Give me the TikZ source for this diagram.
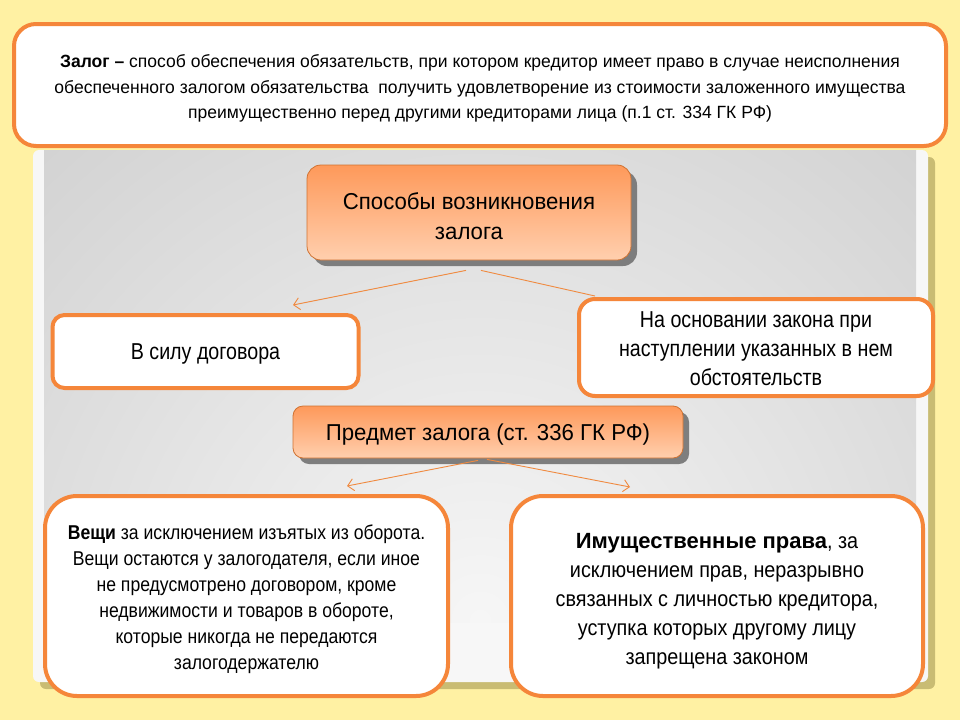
\documentclass[tikz,border=0pt]{standalone}
\usepackage{fontspec}
\setmainfont{Liberation Sans}
\newfontfamily\fDef[FakeStretch=0.99]{Liberation Sans}
\newfontfamily\fOr[FakeStretch=0.965]{Liberation Sans}
\newfontfamily\fMid[FakeStretch=0.855]{Liberation Sans}
\newfontfamily\fThg[FakeStretch=0.88]{Liberation Sans}
\newfontfamily\fRgt[FakeStretch=0.90]{Liberation Sans}
\newfontfamily\fRgtB{Liberation Sans}
\usetikzlibrary{arrows.meta,shadows}
\definecolor{bgyellow}{HTML}{FFF1A3}
\definecolor{orline}{HTML}{F5863A}
\definecolor{ortop}{HTML}{FE995A}
\definecolor{orbot}{HTML}{FFCFAE}
\definecolor{olive}{HTML}{C9BC73}
\definecolor{arrcol}{HTML}{F08A40}
\newcommand{\tx}[2][4pt]{\raisebox{-#1}[\height][\depth]{\begin{tabular}{@{}c@{}}#2\end{tabular}}}
\tikzset{
  wbox/.style={draw=orline, line width=4pt, fill=white, inner sep=0pt},
  obox/.style={draw=orline!85!black, line width=0.8pt, top color=ortop, bottom color=orbot,
    inner sep=0pt,
    drop shadow={shadow xshift=6pt, shadow yshift=-6pt, fill=black!55, opacity=0.9}},
  arr/.style={draw=arrcol, line width=0.9pt, -{Straight Barb[length=6pt,width=12pt]}},
  plain/.style={draw=arrcol, line width=0.9pt}
}
\begin{document}
\begin{tikzpicture}[x=1pt,y=-1pt]
\useasboundingbox (0,0) rectangle (960,720);
\fill[bgyellow] (0,0) rectangle (960,720);
% panel
\fill[olive, rounded corners=6pt] (40,157) rectangle (935,689);
\fill[gray!6, rounded corners=6pt] (33,150) rectangle (928,682);
\begin{scope}
\clip (44,150) rectangle (916,622);
\shade[inner color=gray!7, outer color=gray!50] (480,620) circle (1000);
\end{scope}
\node[obox, rounded corners=14pt, minimum width=324pt, minimum height=95pt,
  font=\fOr\fontsize{23}{30}\selectfont] (ways) at (469,212.5) {\tx[6pt]{Способы возникновения\\залога}};
\node[wbox, rounded corners=12pt, minimum width=306pt, minimum height=73pt,
  font=\fMid\fontsize{23}{29}\selectfont] (contract) at (205.5,351.5) {\tx[2pt]{В силу договора}};
\node[wbox, rounded corners=16pt, minimum width=354pt, minimum height=97pt,
  font=\fMid\fontsize{23}{29}\selectfont] (law) at (756,347.5) {\tx[3pt]{На основании закона при\\наступлении указанных в нем\\обстоятельств}};
\node[obox, rounded corners=10pt, minimum width=390pt, minimum height=52pt,
  font=\fOr\fontsize{23}{29}\selectfont] (subject) at (488,432) {\tx[2.5pt]{Предмет залога (ст. 336 ГК РФ)}};
\node[wbox, rounded corners=32pt, minimum width=403pt, minimum height=200pt,
  font=\fThg\fontsize{20}{26}\selectfont] (things) at (246.5,596) {\tx[3pt]{\textbf{Вещи} за исключением изъятых из оборота.\\Вещи остаются у залогодателя, если иное\\не предусмотрено договором, кроме\\недвижимости и товаров в обороте,\\которые никогда не передаются\\залогодержателю}};
\node[wbox, rounded corners=32pt, minimum width=412pt, minimum height=200pt,
  font=\fRgt\fontsize{22}{29}\selectfont] (rights) at (717,596) {\tx[5pt]{{\fRgtB\bfseries Имущественные права}, за\\исключением прав, неразрывно\\связанных с личностью кредитора,\\уступка которых другому лицу\\запрещена законом}};
\node[wbox, rounded corners=22pt, minimum width=932pt, minimum height=122pt,
  font=\fDef\fontsize{17.7}{25.5}\selectfont] (def) at (480,85) {\tx[3pt]{\textbf{Залог –} способ обеспечения обязательств, при котором кредитор имеет право в случае неисполнения\\обеспеченного залогом обязательства\ \ получить удовлетворение из стоимости заложенного имущества\\преимущественно перед другими кредиторами лица (п.1 ст. 334 ГК РФ)}};
% connectors
\draw[arr] ([xshift=-3pt,yshift=-10pt]ways.south) -- ([xshift=87.5pt,yshift=8pt]contract.north);
\draw[plain] ([xshift=12pt,yshift=-10pt]ways.south) -- ([xshift=18pt,yshift=1pt]law.north west);
\draw[arr] ([xshift=-10pt,yshift=-2pt]subject.south) -- ([xshift=100.5pt,yshift=8pt]things.north);
\draw[arr] ([xshift=-1pt,yshift=-1pt]subject.south) -- ([xshift=-87pt,yshift=7pt]rights.north);
\end{tikzpicture}
\end{document}
